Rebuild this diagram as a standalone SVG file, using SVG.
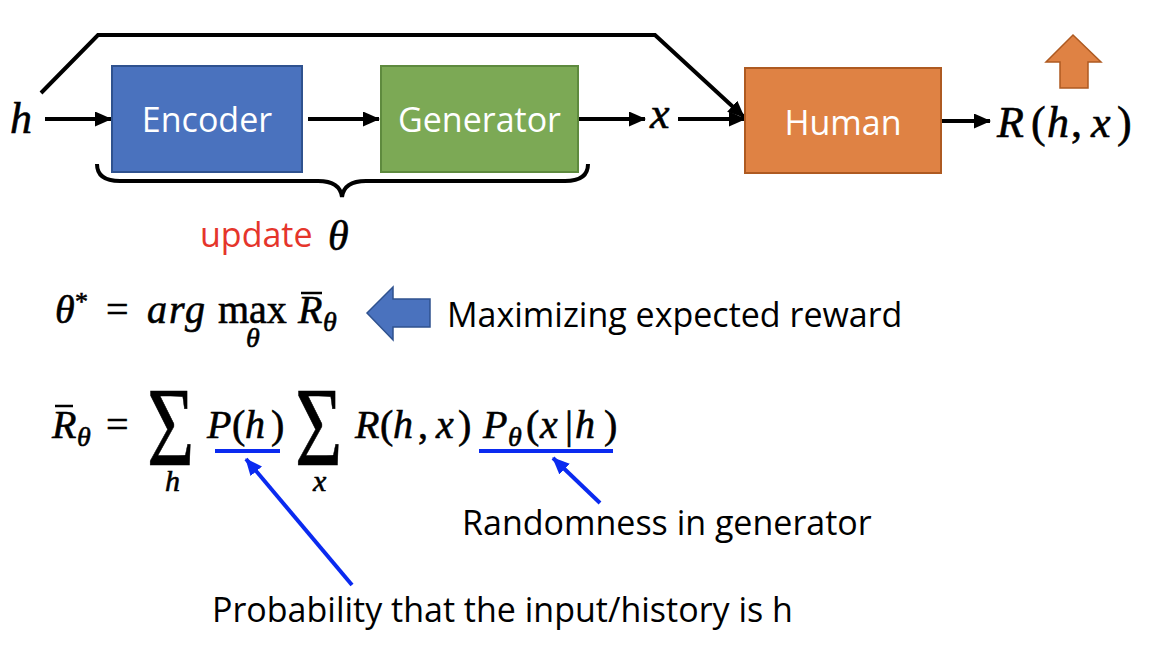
<svg xmlns="http://www.w3.org/2000/svg" width="1152" height="650" viewBox="0 0 1152 650">
<style>
.lbl{font-family:"Open Sans","Liberation Sans",sans-serif;font-size:34px;}
.box-t{fill:#ffffff;text-anchor:middle;}
.m{font-family:"Liberation Serif","DejaVu Serif",serif;font-style:italic;fill:#000;stroke:#000;stroke-width:0.6;}
.u{font-style:normal;}
.blk{stroke:#000;stroke-width:4;fill:none;}
.blue{stroke:#0a2af0;stroke-width:4;fill:none;}
</style>
<defs>
<marker id="ah" markerUnits="userSpaceOnUse" markerWidth="17" markerHeight="15" refX="16" refY="7.5" orient="auto">
<path d="M0,0 L17,7.5 L0,15 z" fill="#000"/>
</marker>
<marker id="bh" markerUnits="userSpaceOnUse" markerWidth="17" markerHeight="15" refX="16" refY="7.5" orient="auto">
<path d="M0,0 L17,7.5 L0,15 z" fill="#0a2af0"/>
</marker>
</defs>
<rect width="1152" height="650" fill="#fff"/>

<g id="connectors">
<path class="blk" d="M41,93 L98,35 L655,35 L744,117" marker-end="url(#ah)" stroke-linejoin="miter"/>
<line class="blk" x1="45" y1="119" x2="111" y2="119" marker-end="url(#ah)"/>
<line class="blk" x1="308" y1="119" x2="379" y2="119" marker-end="url(#ah)"/>
<line class="blk" x1="578" y1="119" x2="645" y2="119" marker-end="url(#ah)"/>
<line class="blk" x1="678" y1="119" x2="745" y2="119" marker-end="url(#ah)"/>
<line class="blk" x1="941" y1="121" x2="990" y2="121" marker-end="url(#ah)"/>
<path class="blk" stroke-width="3.5" d="M97,164 Q97,181 120,181 L318,181 Q340,181 342,197 Q344,181 366,181 L565,181 Q588,181 588,164"/>
<line class="blue" x1="215" y1="451" x2="280" y2="451"/>
<line class="blue" x1="479" y1="451" x2="613" y2="451"/>
<line class="blue" x1="352" y1="585" x2="246" y2="459" marker-end="url(#bh)"/>
<line class="blue" x1="600" y1="503" x2="553" y2="458" marker-end="url(#bh)"/>
</g>

<g id="h-in"><text class="m" x="10" y="133" font-size="44">h</text></g>

<g id="encoder">
<rect x="112" y="66" width="190" height="106" fill="#4a72be" stroke="#2f528f" stroke-width="2"/>
<text class="lbl box-t" x="207" y="132">Encoder</text>
</g>

<g id="generator">
<rect x="381" y="66" width="197" height="106" fill="#7ca955" stroke="#5e8a3e" stroke-width="2"/>
<text class="lbl box-t" x="479.5" y="132">Generator</text>
</g>

<g id="x-out"><text class="m" x="650" y="128" font-size="44">x</text></g>

<g id="human">
<rect x="745" y="68" width="196" height="105" fill="#df8244" stroke="#ae5a21" stroke-width="2"/>
<text class="lbl box-t" x="843" y="135">Human</text>
</g>

<g id="reward">
<text class="m" y="137" font-size="44"><tspan x="997">R</tspan><tspan class="u" x="1031">(</tspan><tspan x="1047">h</tspan><tspan class="u" x="1071">,</tspan><tspan x="1091">x</tspan><tspan class="u" x="1117">)</tspan></text>
</g>

<g id="up-arrow">
<path d="M1073,35 L1101,62 L1088,62 L1088,88 L1060,88 L1060,62 L1046,62 z" fill="#df8244" stroke="#ae5a21" stroke-width="1.5"/>
</g>

<g id="update">
<text class="lbl" x="200" y="247" fill="#e5352b">update</text>
<text class="m" x="328" y="250" font-size="42">θ</text>
</g>

<g id="formula1">
<text class="m" y="323" font-size="40"><tspan x="55">θ</tspan><tspan class="u" x="75" y="310" font-size="26">*</tspan><tspan class="u" x="106" y="323">=</tspan><tspan x="147" letter-spacing="2">arg</tspan><tspan class="u" x="218">max</tspan><tspan x="298">R</tspan></text>
<text class="m" x="246" y="347" font-size="28">θ</text>
<text class="m" x="323" y="331" font-size="28">θ</text>
<line x1="301" y1="293" x2="322" y2="293" stroke="#000" stroke-width="2.5"/>
</g>

<g id="blue-arrow">
<path d="M367,313 L393,287 L393,299 L430,299 L430,327 L393,327 L393,340 z" fill="#4a72be" stroke="#2f528f" stroke-width="1.5"/>
</g>

<g id="maxim"><text class="lbl" x="447" y="327" fill="#000">Maximizing expected reward</text></g>

<g id="formula2">
<text class="m" y="438" font-size="40"><tspan x="52">R</tspan><tspan class="u" x="106">=</tspan><tspan x="207">P</tspan><tspan class="u" x="232">(</tspan><tspan x="245">h</tspan><tspan class="u" x="271">)</tspan><tspan x="355">R</tspan><tspan class="u" x="380">(</tspan><tspan x="393">h</tspan><tspan class="u" x="418">,</tspan><tspan x="436">x</tspan><tspan class="u" x="458">)</tspan><tspan x="483">P</tspan><tspan class="u" x="526">(</tspan><tspan x="540">x</tspan><tspan class="u" x="565">|</tspan><tspan x="575">h</tspan><tspan class="u" x="604">)</tspan></text>
<line x1="55" y1="406" x2="73" y2="406" stroke="#000" stroke-width="2.5"/>
<text class="m" x="77" y="446" font-size="28">θ</text>
<text class="m" x="508" y="446" font-size="28">θ</text>
<text class="m u" transform="translate(147,465) scale(0.72,1)" font-size="113">Σ</text>
<text class="m u" transform="translate(295,465) scale(0.72,1)" font-size="113">Σ</text>
<text class="m" x="165" y="491" font-size="30">h</text>
<text class="m" x="313" y="491" font-size="30">x</text>
</g>

<g id="note-random"><text class="lbl" x="462" y="535" fill="#000">Randomness in generator</text></g>
<g id="note-prob"><text class="lbl" x="212" y="622" fill="#000">Probability that the input/history is h</text></g>
</svg>
